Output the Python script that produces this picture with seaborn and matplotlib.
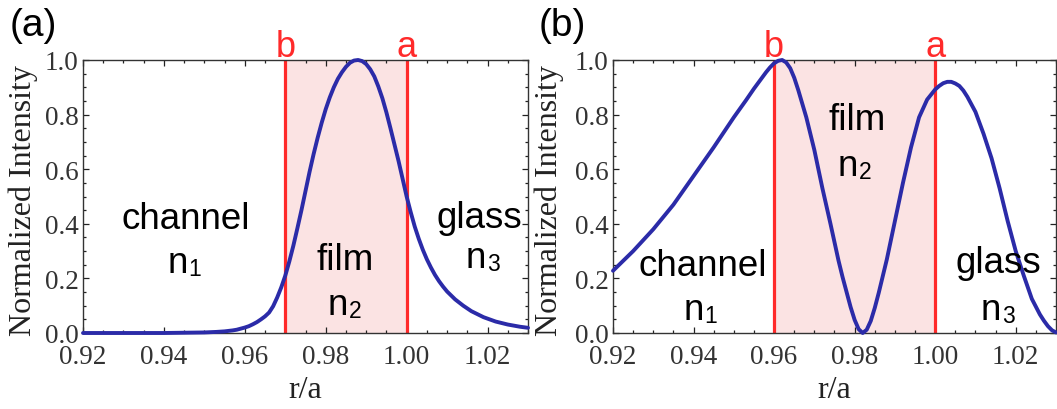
import numpy as np
import pandas as pd
import seaborn as sns
import matplotlib.pyplot as plt
from matplotlib.ticker import MultipleLocator

# panel (a): mode confined in the film
xa = [0.920, 0.930, 0.940, 0.945, 0.950, 0.953, 0.955, 0.957, 0.958, 0.959,
      0.960, 0.961, 0.962, 0.963, 0.964, 0.965, 0.966, 0.967, 0.968, 0.969,
      0.970, 0.971, 0.972, 0.973, 0.974, 0.975, 0.976, 0.977, 0.978, 0.979,
      0.980, 0.981, 0.982, 0.983, 0.984, 0.985, 0.986, 0.987, 0.988, 0.989,
      0.990, 0.991, 0.992, 0.993, 0.994, 0.995, 0.996, 0.997, 0.998, 0.999,
      1.000, 1.001, 1.002, 1.003, 1.004, 1.005, 1.006, 1.007, 1.008, 1.009,
      1.010, 1.012, 1.014, 1.016, 1.019, 1.022, 1.025, 1.028, 1.030]
ya = [0.000, 0.000, 0.000, 0.001, 0.002, 0.004, 0.006, 0.0095, 0.012, 0.016,
      0.020, 0.025, 0.032, 0.040, 0.050, 0.061, 0.075, 0.098, 0.130, 0.167,
      0.210, 0.262, 0.320, 0.384, 0.450, 0.520, 0.590, 0.655, 0.715, 0.770,
      0.820, 0.863, 0.900, 0.931, 0.955, 0.975, 0.990, 0.998, 1.000, 0.996,
      0.985, 0.966, 0.940, 0.903, 0.860, 0.808, 0.750, 0.690, 0.630, 0.565,
      0.500, 0.443, 0.390, 0.345, 0.305, 0.270, 0.240, 0.213, 0.190, 0.170,
      0.152, 0.123, 0.100, 0.080, 0.058, 0.042, 0.031, 0.023, 0.019]

# panel (b): higher order mode
xb = [0.920, 0.925, 0.930, 0.935, 0.940, 0.945, 0.950, 0.953, 0.955, 0.957,
      0.958, 0.959, 0.960, 0.961, 0.962, 0.963, 0.964, 0.965, 0.966, 0.968,
      0.970, 0.972, 0.974, 0.976, 0.977, 0.978, 0.979, 0.980, 0.981, 0.982,
      0.983, 0.984, 0.985, 0.986, 0.988, 0.990, 0.992, 0.994, 0.996, 0.998,
      1.000, 1.001, 1.002, 1.003, 1.004, 1.005, 1.006, 1.007, 1.008, 1.010,
      1.012, 1.014, 1.016, 1.018, 1.020, 1.022, 1.024, 1.026, 1.027, 1.028,
      1.029, 1.030]
yb = [0.228, 0.300, 0.380, 0.470, 0.575, 0.680, 0.790, 0.852, 0.895, 0.935,
      0.955, 0.973, 0.988, 0.997, 1.000, 0.991, 0.970, 0.935, 0.890, 0.790,
      0.670, 0.530, 0.400, 0.265, 0.205, 0.150, 0.095, 0.048, 0.014, 0.000,
      0.012, 0.044, 0.092, 0.148, 0.270, 0.410, 0.550, 0.680, 0.790, 0.855,
      0.892, 0.905, 0.915, 0.920, 0.920, 0.914, 0.905, 0.888, 0.865, 0.810,
      0.730, 0.640, 0.530, 0.410, 0.300, 0.210, 0.125, 0.068, 0.045, 0.025,
      0.010, 0.002]

# film boundaries (b, a) for each panel
bounds_a = [0.97, 1.00]
bounds_b = [0.96, 1.00]

# region names: text, x, y (baseline)
names_a = [("channel", 0.9454, 0.385), ("film", 0.9847, 0.234), ("glass", 1.018, 0.388)]
names_b = [("channel", 0.9422, 0.214), ("film", 0.9806, 0.747), ("glass", 1.0156, 0.223)]
# refractive index labels: subscript, x, y (baseline)
index_a = [("1", 0.945, 0.224), ("2", 0.9847, 0.07), ("3", 1.0188, 0.242)]
index_b = [("1", 0.9417, 0.053), ("2", 0.9801, 0.58), ("3", 1.0156, 0.053)]

sns.set_style("ticks")
plt.rcParams["font.family"] = ["Liberation Serif", "DejaVu Serif"]

blue = "#2b2ba8"
red = "#ff2a2a"
pink = "#fbe3e3"
sans = "Liberation Sans"

fig = plt.figure(figsize=(10.57, 4.10), dpi=100)
ax_a = fig.add_axes([83 / 1057, 76 / 410, 445 / 1057, 273 / 410])
ax_b = fig.add_axes([613 / 1057, 76 / 410, 443 / 1057, 273 / 410])

panels = [(ax_a, xa, ya, bounds_a, names_a, index_a, "(a)", 10, -0.101),
          (ax_b, xb, yb, bounds_b, names_b, index_b, "(b)", 539, -0.11)]

for ax, x, y, bounds, names, index, tag, tag_x, ylab_x in panels:
    df = pd.DataFrame({"r/a": x, "I": y})
    ax.axvspan(bounds[0], bounds[1], color=pink, lw=0, zorder=0)
    for xv, name in zip(bounds, ["b", "a"]):
        ax.axvline(xv, color=red, lw=2.3, zorder=1)
        ax.text(xv, 1.016, name, color=red, fontsize=26, ha="center",
                va="baseline", family=sans,
                transform=ax.get_xaxis_transform(), clip_on=False)
    sns.lineplot(data=df, x="r/a", y="I", ax=ax, color=blue, lw=2.8,
                 zorder=3, clip_on=False)

    for txt, tx, ty in names:
        ax.text(tx, ty, txt, fontsize=26.5, ha="center", va="baseline",
                family=sans, color="black")
    # "n" with a small, slightly lowered index digit
    for sub, tx, ty in index:
        ax.annotate("n", (tx, ty), xytext=(-17, 0), textcoords="offset pixels",
                    fontsize=26.5, ha="left", va="baseline", family=sans,
                    color="black")
        ax.annotate(sub, (tx, ty), xytext=(4, -3), textcoords="offset pixels",
                    fontsize=16.5, ha="left", va="baseline", family=sans,
                    color="black")

    ax.set_xlim(0.92, 1.03)
    ax.set_ylim(0, 1.0)
    ax.xaxis.set_major_locator(MultipleLocator(0.02))
    ax.xaxis.set_minor_locator(MultipleLocator(0.005))
    ax.yaxis.set_major_locator(MultipleLocator(0.2))
    ax.yaxis.set_minor_locator(MultipleLocator(0.05))
    ax.xaxis.set_major_formatter(plt.FuncFormatter(lambda v, p: f"{v:.2f}"))
    ax.yaxis.set_major_formatter(plt.FuncFormatter(lambda v, p: f"{v:.1f}"))
    ax.tick_params(which="both", direction="in", top=True, right=True,
                   width=0.9, colors="#222222", labelsize=19.5,
                   labelcolor="#333333")
    ax.tick_params(which="major", length=4)
    ax.tick_params(which="minor", length=2.5)
    ax.tick_params(axis="x", which="major", pad=8)
    ax.tick_params(axis="y", which="major", pad=3)
    for sp in ax.spines.values():
        sp.set_linewidth(1.0)
        sp.set_color("#333333")
        sp.set_visible(True)

    ax.set_xlabel("r/a", fontsize=23, color="#222222")
    ax.set_ylabel("Normalized Intensity", fontsize=23, color="#222222")
    ax.xaxis.set_label_coords(0.5, -0.155)
    ax.yaxis.set_label_coords(ylab_x, 0.49)

    fig.text(tag_x / 1057, (410 - 35.6) / 410, tag, fontsize=28,
             family=sans, ha="left", va="baseline", color="black")

fig.savefig("out.png", dpi=100)
